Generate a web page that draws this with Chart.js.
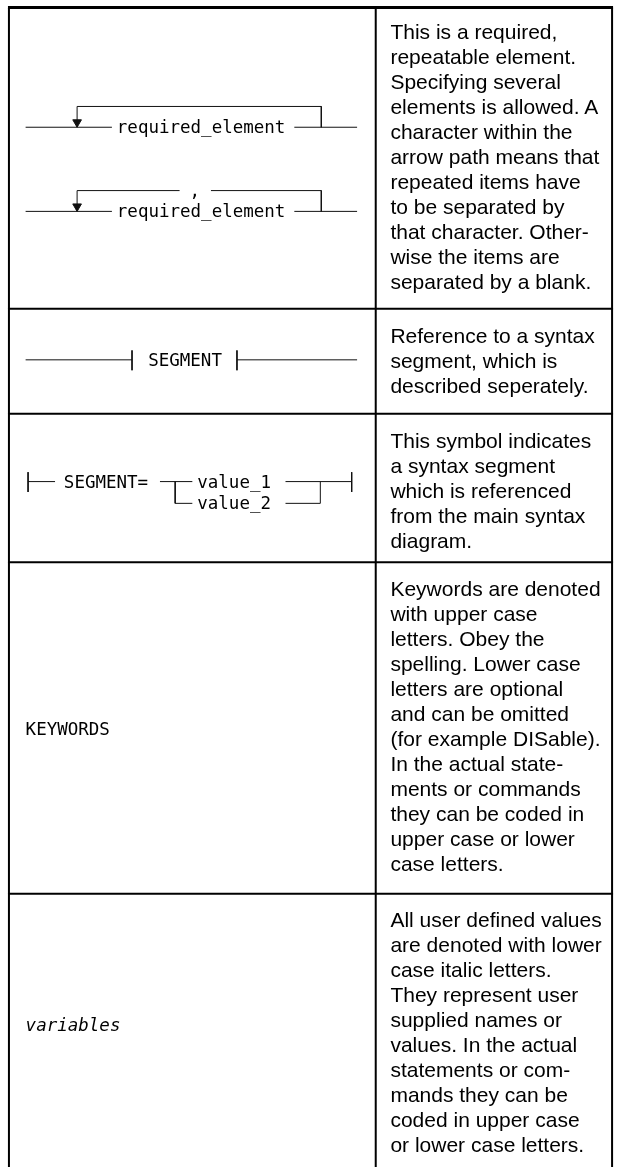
<!DOCTYPE html>
<html><head><meta charset="utf-8">
<script src="https://cdn.jsdelivr.net/npm/chart.js@4/dist/chart.umd.min.js"></script>
<style>
html,body{margin:0;padding:0;background:#fff;}
#wrap{position:relative;width:622px;height:1173px;overflow:hidden;}
#c{position:absolute;left:0;top:0;}
.t{position:absolute;white-space:pre;color:#000;}
.desc{font-family:"Liberation Sans",Arial,sans-serif;font-size:21px;line-height:25px;}
.mono{font-family:"DejaVu Sans Mono",monospace;font-size:17.5px;line-height:20px;transform:translateY(-50%);}
.it{font-style:italic;}
</style></head><body>
<div id="wrap"><canvas id="c" width="622" height="1173"></canvas></div>
<script>
// ---- table grid (diagram units) ----
const columnEdges = [3, 377, 618];
const rowEdges = [1.5, 306, 412, 562, 897, 1173];
const descLeft = 392;
const descOffset = [12, 14, 14, 14, 13];

// ---- description texts ----
const descriptions = [
  ["This is a required,","repeatable element.","Specifying several","elements is allowed. A","character within the","arrow path means that","repeated items have","to be separated by","that character. Other-","wise the items are","separated by a blank."],
  ["Reference to a syntax","segment, which is","described seperately."],
  ["This symbol indicates","a syntax segment","which is referenced","from the main syntax","diagram."],
  ["Keywords are denoted","with upper case","letters. Obey the","spelling. Lower case","letters are optional","and can be omitted","(for example DISable).","In the actual state-","ments or commands","they can be coded in","upper case or lower","case letters."],
  ["All user defined values","are denoted with lower","case italic letters.","They represent user","supplied names or","values. In the actual","statements or com-","mands they can be","coded in upper case","or lower case letters."]
];

// ---- syntax-diagram labels ----
const labelTexts = ["required_element","required_element",",","SEGMENT","SEGMENT=","value_1","value_2","KEYWORDS","variables"];
const labelX     = [113, 113, 187, 145, 59, 195, 195, 20, 20];
const labelY     = [122.5, 207.5, 187, 357.5, 480.5, 480.5, 502.5, 730, 1030];
const labelItalic= [false,false,false,false,false,false,false,false,true];

// ---- syntax-diagram paths ----
const diagramPaths = [
  [[20,122.5],[108,122.5]],
  [[294,122.5],[358,122.5]],
  [[72.5,122],[72.5,101.5],[321.5,101.5],[321.5,122.5]],
  [[20,207.5],[108,207.5]],
  [[294,207.5],[358,207.5]],
  [[72.5,207],[72.5,186.5],[177,186.5]],
  [[209,186.5],[321.5,186.5],[321.5,207.5]],
  [[20,357.5],[128.5,357.5]],
  [[128.5,348],[128.5,368]],
  [[235.5,348],[235.5,368]],
  [[235.5,357.5],[358,357.5]],
  [[22.5,471],[22.5,491]],
  [[22.5,480.5],[50,480.5]],
  [[157,480.5],[190,480.5]],
  [[172.5,480.5],[172.5,502.5],[190,502.5]],
  [[285,480.5],[352.5,480.5]],
  [[285,502.5],[320.5,502.5],[320.5,480.5]],
  [[352.5,471],[352.5,491]]
];
const arrowX = [72.5, 72.5];
const arrowY = [117.5, 202.5];

function pathSet(pts, width, color){
  return {data: pts.map(p => ({x:p[0], y:p[1]})), showLine:true, borderColor:color, borderWidth:width,
          pointRadius:0, pointHoverRadius:0, fill:false, tension:0, clip:false, borderCapStyle:'butt'};
}
const datasets = [];
const gridTop = rowEdges[0], gridBottom = rowEdges[rowEdges.length-1];
datasets.push(pathSet([[columnEdges[0]-1, gridTop],[columnEdges[2]+1, gridTop]], 3, '#000'));
rowEdges.slice(1, -1).forEach(y => datasets.push(pathSet([[columnEdges[0]-1, y],[columnEdges[2]+1, y]], 2, '#000')));
columnEdges.forEach(x => datasets.push(pathSet([[x, gridTop],[x, gridBottom]], 2, '#000')));
diagramPaths.forEach(p => datasets.push(pathSet(p, 1, '#111')));
datasets.push({data: arrowX.map((x,i)=>({x, y:arrowY[i]})), showLine:false, pointStyle:'triangle', rotation:180,
  pointRadius:5, backgroundColor:'#111', borderColor:'#111', borderWidth:1, clip:false});

const chart = new Chart(document.getElementById('c').getContext('2d'), {
  type:'scatter',
  data:{datasets},
  options:{
    responsive:false, animation:false, events:[],
    layout:{padding:0},
    plugins:{legend:{display:false}, tooltip:{enabled:false}},
    scales:{
      x:{type:'linear', min:0, max:622, display:false},
      y:{type:'linear', min:0, max:1173, reverse:true, display:false}
    }
  }
});

const wrap = document.getElementById('wrap');
const xs = chart.scales.x, ys = chart.scales.y;
descriptions.forEach((lines, i) => {
  const d = document.createElement('div');
  d.className = 't desc';
  d.style.left = xs.getPixelForValue(descLeft) + 'px';
  d.style.top = (ys.getPixelForValue(rowEdges[i]) + descOffset[i]) + 'px';
  d.textContent = lines.join('\n');
  wrap.appendChild(d);
});
labelTexts.forEach((t, i) => {
  const d = document.createElement('div');
  d.className = 't mono' + (labelItalic[i] ? ' it' : '');
  d.style.left = xs.getPixelForValue(labelX[i]) + 'px';
  d.style.top = ys.getPixelForValue(labelY[i]) + 'px';
  d.textContent = t;
  wrap.appendChild(d);
});
</script>
</body></html>
